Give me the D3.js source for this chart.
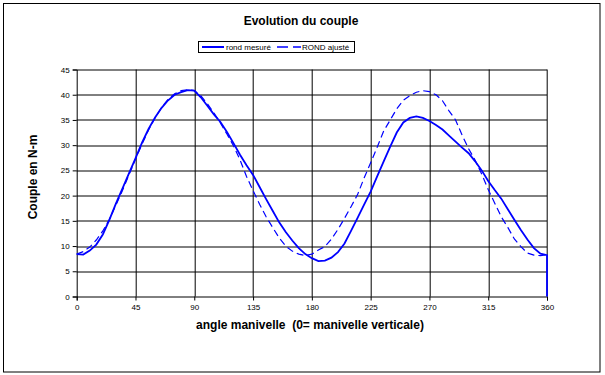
<!DOCTYPE html>
<html>
<head>
<meta charset="utf-8">
<script src="https://cdn.jsdelivr.net/npm/d3@7"></script>
<style>
  body { margin: 0; background: #fff; }
  text { font-family: "Liberation Sans", Arial, sans-serif; fill: #000; }
  .title { font-size: 12px; font-weight: bold; }
  .axis-title { font-size: 12px; font-weight: bold; }
  .tick text { font-size: 8px; }
  .legend text { font-size: 8px; }
</style>
</head>
<body>
<div id="chart"></div>
<script>
// angles (degrees)
let angles = [0, 5, 10, 15, 20, 25, 30, 35, 40, 45, 50, 55, 60, 65, 70, 75, 80, 85, 90,
    95, 100, 105, 110, 115, 120, 125, 130, 135, 140, 145, 150, 155, 160, 165, 170, 175, 180,
    185, 190, 195, 200, 205, 210, 215, 220, 225, 230, 235, 240, 245, 250, 255, 260, 265, 270,
    275, 280, 285, 290, 295, 300, 305, 310, 315, 320, 325, 330, 335, 340, 345, 350, 355, 360];

// rond mesuré
let mesure = [8.4, 8.3, 9.1, 10.3, 12.3, 15.2, 18.4, 21.4, 24.4, 27.4, 30.5, 33.2, 35.5, 37.4, 38.9, 40.0, 40.5, 40.9, 40.8,
    39.5, 37.8, 36.1, 34.6, 32.6, 30.4, 28.1, 26.0, 24.1, 21.7, 19.3, 17.0, 14.7, 12.8, 11.1, 9.6, 8.4, 7.6,
    7.0, 7.1, 7.7, 8.8, 10.5, 13.0, 15.6, 18.2, 20.8, 23.8, 26.8, 29.7, 32.5, 34.5, 35.4, 35.7, 35.4, 34.8,
    34.0, 33.1, 31.9, 30.7, 29.5, 28.4, 26.8, 25.0, 22.9, 21.1, 19.4, 17.3, 15.2, 13.2, 11.3, 9.6, 8.5, 8.2];

// ROND ajusté
let ajuste = [8.4, 8.9, 9.8, 11.2, 13.0, 15.3, 18.1, 21.0, 24.1, 27.2, 30.2, 33.0, 35.4, 37.5, 39.1, 40.2, 40.8, 41.0, 40.8,
    39.8, 38.2, 36.4, 34.4, 32.2, 29.9, 27.1, 23.8, 21.0, 18.3, 15.8, 13.7, 11.6, 10.0, 9.0, 8.4, 8.1, 8.4,
    9.2, 9.9, 11.4, 13.3, 15.5, 17.8, 20.2, 23.5, 26.5, 29.6, 32.8, 35.0, 37.2, 38.9, 39.8, 40.5, 40.8, 40.6,
    40.0, 38.8, 36.8, 35.0, 32.0, 29.3, 27.0, 24.3, 21.2, 18.5, 15.8, 13.7, 11.4, 9.9, 8.6, 8.2, 8.1, 8.3];

let xTicks = [0, 45, 90, 135, 180, 225, 270, 315, 360];
let yTicks = [0, 5, 10, 15, 20, 25, 30, 35, 40, 45];

let W = 605, H = 375;
let margin = {top: 69.5, right: 58, bottom: 78.5, left: 76.7};
let width = W - margin.left - margin.right;
let height = H - margin.top - margin.bottom;

let svg = d3.select('#chart').append('svg')
    .attr('width', W)
    .attr('height', H);

// outer frame
svg.append('rect')
    .attr('x', 3.5).attr('y', 3.5)
    .attr('width', 596.5).attr('height', 368.5)
    .attr('fill', '#fff')
    .attr('stroke', '#000')
    .attr('stroke-width', 1);

let g = svg.append('g')
    .attr('transform', 'translate(' + margin.left + ',' + margin.top + ')');

let x = d3.scaleLinear().domain([0, 360]).range([0, width]);
let y = d3.scaleLinear().domain([0, 45]).range([height, 0]);

// gridlines
g.append('g')
    .selectAll('line.hgrid')
    .data(yTicks.slice(1))
    .enter().append('line')
    .attr('x1', 0).attr('x2', width)
    .attr('y1', function(d) { return Math.round(y(d)) + 0.5; })
    .attr('y2', function(d) { return Math.round(y(d)) + 0.5; })
    .attr('stroke', '#000');

g.append('g')
    .selectAll('line.vgrid')
    .data(xTicks.slice(1))
    .enter().append('line')
    .attr('y1', 0).attr('y2', height)
    .attr('x1', function(d) { return Math.round(x(d)) + 0.5; })
    .attr('x2', function(d) { return Math.round(x(d)) + 0.5; })
    .attr('stroke', '#000');

// axes
let xAxis = g.append('g')
    .attr('transform', 'translate(0,' + height + ')')
    .call(d3.axisBottom(x).tickValues(xTicks).tickSize(4).tickPadding(4));
let yAxis = g.append('g')
    .call(d3.axisLeft(y).tickValues(yTicks).tickSize(4).tickPadding(3));
xAxis.select('.domain').attr('stroke', '#000');
yAxis.select('.domain').attr('stroke', '#000');
g.selectAll('.tick text').attr('font-family', null).attr('font-size', null);

// series
let line = d3.line()
    .x(function(d) { return x(d[0]); })
    .y(function(d) { return y(d[1]); });

let mesurePts = angles.map(function(a, i) { return [a, mesure[i]]; });
mesurePts.push([360, 0]);
let ajustePts = angles.map(function(a, i) { return [a, ajuste[i]]; });

g.append('path')
    .datum(ajustePts)
    .attr('d', line)
    .attr('fill', 'none')
    .attr('stroke', '#0000ff')
    .attr('stroke-width', 1.2)
    .attr('stroke-dasharray', '7,4');

g.append('path')
    .datum(mesurePts)
    .attr('d', line)
    .attr('fill', 'none')
    .attr('stroke', '#0000ff')
    .attr('stroke-width', 1.8);

// titles
svg.append('text')
    .attr('class', 'title')
    .attr('x', 301).attr('y', 25)
    .attr('text-anchor', 'middle')
    .text('Evolution du couple');

svg.append('text')
    .attr('class', 'axis-title')
    .attr('x', 310).attr('y', 329)
    .attr('text-anchor', 'middle')
    .attr('xml:space', 'preserve')
    .text('angle manivelle  (0= manivelle verticale)');

svg.append('text')
    .attr('class', 'axis-title')
    .attr('transform', 'translate(37,177) rotate(-90)')
    .attr('text-anchor', 'middle')
    .text('Couple en N-m');

// legend
let legend = svg.append('g').attr('class', 'legend');
legend.append('rect')
    .attr('x', 198.5).attr('y', 41.5)
    .attr('width', 156).attr('height', 11)
    .attr('fill', '#fff')
    .attr('stroke', '#000');
legend.append('line')
    .attr('x1', 202).attr('x2', 224).attr('y1', 47).attr('y2', 47)
    .attr('stroke', '#0000ff').attr('stroke-width', 2);
legend.append('text')
    .attr('x', 226).attr('y', 50)
    .text('rond mesuré');
legend.append('line')
    .attr('x1', 277).attr('x2', 301).attr('y1', 47).attr('y2', 47)
    .attr('stroke', '#0000ff').attr('stroke-width', 1.5)
    .attr('stroke-dasharray', '11,5');
legend.append('text')
    .attr('x', 302).attr('y', 50)
    .text('ROND ajusté');
</script>
</body>
</html>
